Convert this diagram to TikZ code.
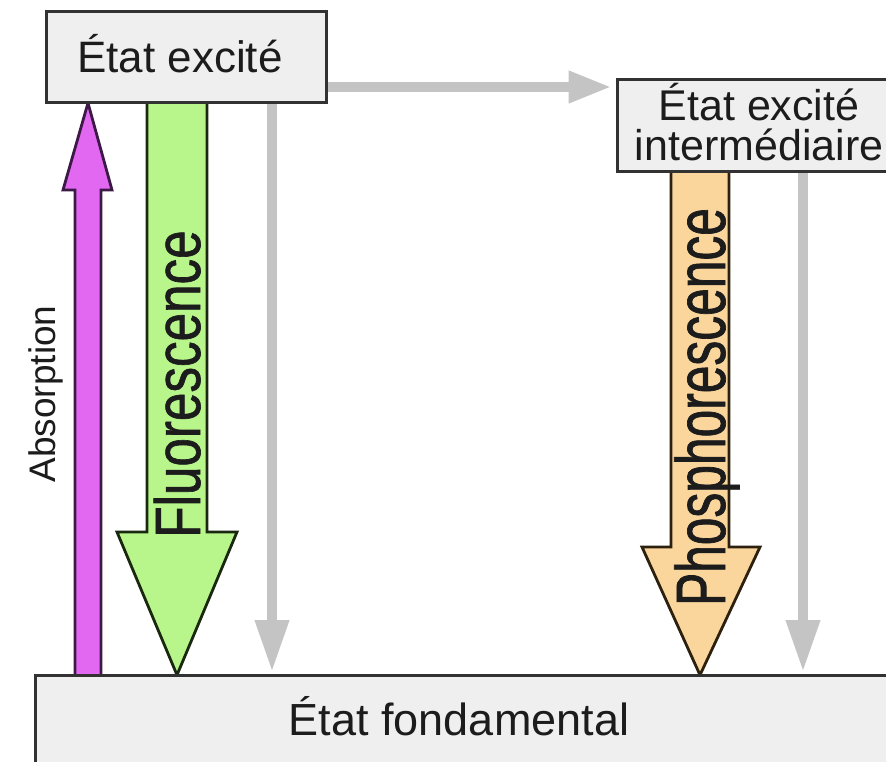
\documentclass[tikz,border=0pt]{standalone}
\usepackage{fontspec}
\setmainfont{Liberation Sans}
\newfontfamily\fluofont[FakeStretch=0.80,FakeBold=1]{Liberation Sans}
\newfontfamily\phosfont[FakeStretch=0.71,FakeBold=1]{Liberation Sans}
\usetikzlibrary{arrows.meta,calc}
\pgfdeclarelayer{bg}
\pgfsetlayers{bg,main}

\definecolor{boxfill}{RGB}{239,239,239}
\definecolor{boxline}{RGB}{50,50,50}
\definecolor{decay}{RGB}{196,196,196}
\definecolor{absfill}{RGB}{226,104,242}
\definecolor{absline}{RGB}{60,25,70}
\definecolor{fluofill}{RGB}{184,246,140}
\definecolor{fluoline}{RGB}{25,40,15}
\definecolor{phosfill}{RGB}{250,214,156}
\definecolor{phosline}{RGB}{45,32,15}
\definecolor{ink}{RGB}{28,28,28}

\begin{document}
\begin{tikzpicture}[x=1pt,y=-1pt,
  level/.style={draw=boxline, fill=boxfill, line width=3pt, rectangle, inner sep=0pt},
  caption/.style={text=ink, inner sep=0pt, anchor=base},
  decayarrow/.style={draw=decay, line width=10pt, -{Triangle[length=52pt,width=32pt]}, shorten >=1.5pt},
  sidearrow/.style={draw=decay, line width=10pt, -{Triangle[length=43pt,width=30pt]}, shorten >=4pt},
  blockarrow/.style={line width=2.8pt, line join=miter},
]
\useasboundingbox (0,0) rectangle (886,762);
\clip (0,0) rectangle (886,762);

% energy levels
\node[level, minimum width=280pt, minimum height=91pt] (exc) at (186,57.5) {};
\node[level, minimum width=290pt, minimum height=92pt] (inter) at (762,126) {};
\node[level, minimum width=900pt, minimum height=140pt] (ground) at (485,745) {};

% level labels
\node[caption, font=\fontsize{44}{44}\selectfont] (excTxt) at (180,73) {État excité};
\node[caption, font=\fontsize{43}{43}\selectfont] (interTxtA) at (759,121) {État excité};
\node[caption, font=\fontsize{43}{43}\selectfont] (interTxtB) at (759,161) {intermédiaire};
\node[caption, font=\fontsize{45}{45}\selectfont] (groundTxt) at (459,735) {État fondamental};

% columns of the transitions
\coordinate (d1) at (272,0);
\coordinate (d2) at (803,0);
\coordinate (h) at (0,87);

\begin{pgfonlayer}{bg}
  \fill[white] (0,0) rectangle (886,762);
  % absorption
  \filldraw[blockarrow, fill=absfill, draw=absline]
    (75,675) -- (75,190) -- (63,190) -- (88,103) -- (112,190) -- (101,190) -- (101,675);
  % fluorescence
  \filldraw[blockarrow, fill=fluofill, draw=fluoline]
    (147,103) -- (147,532) -- (117,532) -- (177,675) -- (237,532) -- (207,532) -- (207,103);
  % phosphorescence
  \filldraw[blockarrow, fill=phosfill, draw=phosline]
    (671,172) -- (671,547) -- (642,547) -- (700,675) -- (760,547) -- (729,547) -- (729,172);
  % non-radiative transitions
  \draw[decayarrow] (exc.south -| d1) -- (ground.north -| d1);
  \draw[decayarrow] (inter.south -| d2) -- (ground.north -| d2);
  \draw[sidearrow] (exc.east |- h) -- (inter.west |- h);
\end{pgfonlayer}

% transition labels
\node[caption, rotate=90, font=\fontsize{37}{37}\selectfont] (absTxt) at (55,394) {Absorption};
\node[caption, rotate=90, font=\fluofont\fontsize{64}{64}\selectfont] (fluoTxt) at (200,384) {Fluorescence};
\node[caption, rotate=90, font=\phosfont\fontsize{70}{70}\selectfont] (phosTxt) at (725,407) {Phosphorescence};
\end{tikzpicture}
\end{document}
